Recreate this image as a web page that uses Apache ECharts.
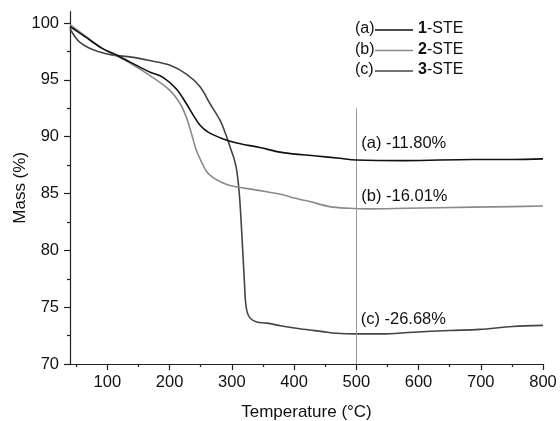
<!DOCTYPE html>
<html>
<head>
<meta charset="utf-8">
<script src="https://cdn.jsdelivr.net/npm/echarts@6/dist/echarts.min.js"></script>
<style>
html,body{margin:0;padding:0;background:#fff;}
#chart{width:560px;height:421px;}
</style>
</head>
<body>
<div id="chart"></div>
<script>
// ---- data ----
var ste1T = [40, 64, 91, 112, 139, 168, 190, 211, 227, 238, 249, 262, 286, 308, 345, 382, 436, 473, 500, 580, 687, 750, 800];
var ste1M = [99.7, 98.8, 97.8, 97.25, 96.5, 95.7, 95.2, 94.2, 92.9, 91.9, 91.0, 90.4, 89.8, 89.45, 89.05, 88.6, 88.3, 88.1, 87.95, 87.9, 88.0, 88.0, 88.05];

var ste2T = [40, 64, 91, 112, 139, 168, 200, 217, 227, 235, 243, 252, 260, 270, 285, 297, 340, 382, 400, 425, 457, 489, 520, 580, 687, 750, 800];
var ste2M = [99.85, 98.9, 97.8, 97.2, 96.4, 95.4, 94.1, 92.9, 91.7, 90.3, 88.8, 87.7, 86.9, 86.4, 85.95, 85.7, 85.3, 84.9, 84.6, 84.3, 83.85, 83.7, 83.65, 83.7, 83.8, 83.85, 83.9];

var ste3T = [40, 48, 56, 69, 85, 107, 139, 168, 200, 227, 249, 265, 281, 291, 299, 304, 308, 312, 315, 318, 320, 322, 325, 330, 340, 356, 380, 409, 446, 468, 500, 540, 591, 650, 698, 751, 800];
var ste3M = [99.5, 98.8, 98.3, 97.85, 97.5, 97.2, 97.0, 96.7, 96.3, 95.5, 94.4, 92.9, 91.45, 90.1, 88.8, 88.0, 87.0, 85.0, 82.5, 79.5, 77.5, 75.5, 74.5, 74.0, 73.7, 73.6, 73.35, 73.1, 72.85, 72.7, 72.65, 72.65, 72.8, 72.95, 73.05, 73.3, 73.4];

var xMajorTicks = [100, 200, 300, 400, 500, 600, 700, 800];
var xMinorTicks = [50, 150, 250, 350, 450, 550, 650, 750];
var yMajorTicks = [70, 75, 80, 85, 90, 95, 100];
var yMinorTicks = [72.5, 77.5, 82.5, 87.5, 92.5, 97.5];

var markerT = 500;
var markerTop = 92.5;

var annoT = [508, 508, 507];
var annoM = [89.4, 84.7, 73.9];
var annoText = ['(a) -11.80%', '(b) -16.01%', '(c) -26.68%'];

var legendTags = ['(a)', '(b)', '(c)'];
var legendNums = ['1', '2', '3'];

// ---- chart ----
var FONT = 'Liberation Sans, Arial, sans-serif';
var TXT = '#111111';
var colors = ['#111111', '#8a8a8a', '#444444'];
function zip(a, b) { return a.map(function (v, i) { return [v, b[i]]; }); }

var chart = echarts.init(document.getElementById('chart'), null, {renderer: 'canvas'});

var graphics = [];
legendTags.forEach(function (tag, i) {
  var cy = 30 + i * 20.5;
  graphics.push({type: 'text', left: 355, top: cy - 9,
    style: {text: tag, font: '16px ' + FONT, fill: TXT}});
  graphics.push({type: 'line', shape: {x1: 375, y1: cy, x2: 413, y2: cy},
    style: {stroke: colors[i], lineWidth: 1.6}});
  graphics.push({type: 'text', left: 418, top: cy - 9,
    style: {text: '{b|' + legendNums[i] + '}-STE', fill: TXT, font: '16px ' + FONT,
      rich: {b: {fontWeight: 'bold', fontSize: 16, fontFamily: FONT, fill: TXT}}}});
});

var axisLineStyle = {color: '#222', width: 1.2};

var option = {
  backgroundColor: '#fff',
  animation: false,
  textStyle: {fontFamily: FONT},
  grid: {left: 70, right: 17, top: 11.7, bottom: 57, containLabel: false, outerBoundsMode: 'none'},
  xAxis: [{
    type: 'value', min: 40, max: 800,
    name: 'Temperature (°C)', nameLocation: 'middle', nameGap: 40, nameMoveOverlap: false,
    nameTextStyle: {fontSize: 17, color: TXT, fontFamily: FONT},
    axisLine: {show: true, lineStyle: axisLineStyle},
    axisTick: {show: true, length: 6, lineStyle: axisLineStyle, customValues: xMajorTicks},
    axisLabel: {fontSize: 16.5, color: TXT, margin: 10, customValues: xMajorTicks, fontFamily: FONT},
    splitLine: {show: false}
  }, {
    type: 'value', min: 40, max: 800, position: 'bottom',
    axisLine: {show: false},
    axisTick: {show: true, length: 3, lineStyle: axisLineStyle, customValues: xMinorTicks},
    axisLabel: {show: false},
    splitLine: {show: false}
  }],
  yAxis: [{
    type: 'value', min: 70, max: 101,
    name: 'Mass (%)', nameLocation: 'middle', nameGap: 41, nameMoveOverlap: false,
    nameTextStyle: {fontSize: 17, color: TXT, fontFamily: FONT},
    axisLine: {show: true, lineStyle: axisLineStyle},
    axisTick: {show: true, length: 6, lineStyle: axisLineStyle, customValues: yMajorTicks},
    axisLabel: {fontSize: 16.5, color: TXT, margin: 11, customValues: yMajorTicks, fontFamily: FONT},
    splitLine: {show: false}
  }, {
    type: 'value', min: 70, max: 101, position: 'left',
    axisLine: {show: false},
    axisTick: {show: true, length: 3, lineStyle: axisLineStyle, customValues: yMinorTicks},
    axisLabel: {show: false},
    splitLine: {show: false}
  }],
  series: [{
    name: '1-STE', type: 'line', data: zip(ste1T, ste1M), showSymbol: false,
    smooth: 0.35,
    lineStyle: {color: colors[0], width: 1.6}, z: 5,
    markLine: {
      silent: true, symbol: 'none', label: {show: false},
      lineStyle: {color: '#9a9a9a', width: 1, type: 'solid'},
      data: [[{coord: [markerT, markerTop]}, {coord: [markerT, 70]}]]
    }
  }, {
    name: '2-STE', type: 'line', data: zip(ste2T, ste2M), showSymbol: false,
    smooth: 0.35,
    lineStyle: {color: colors[1], width: 1.6}, z: 4
  }, {
    name: '3-STE', type: 'line', data: zip(ste3T, ste3M), showSymbol: false,
    smooth: 0.35,
    lineStyle: {color: colors[2], width: 1.6}, z: 3
  }],
  graphic: graphics
};
chart.setOption(option);

// annotations placed through the chart's own scales
var annoGraphics = annoT.map(function (t, i) {
  var p = chart.convertToPixel({xAxisIndex: 0, yAxisIndex: 0}, [t, annoM[i]]);
  return {type: 'text', x: p[0], y: p[1],
    style: {text: annoText[i], font: '16.5px ' + FONT, fill: TXT, verticalAlign: 'middle', align: 'left'}};
});
chart.setOption({graphic: graphics.concat(annoGraphics)});
</script>
</body>
</html>
